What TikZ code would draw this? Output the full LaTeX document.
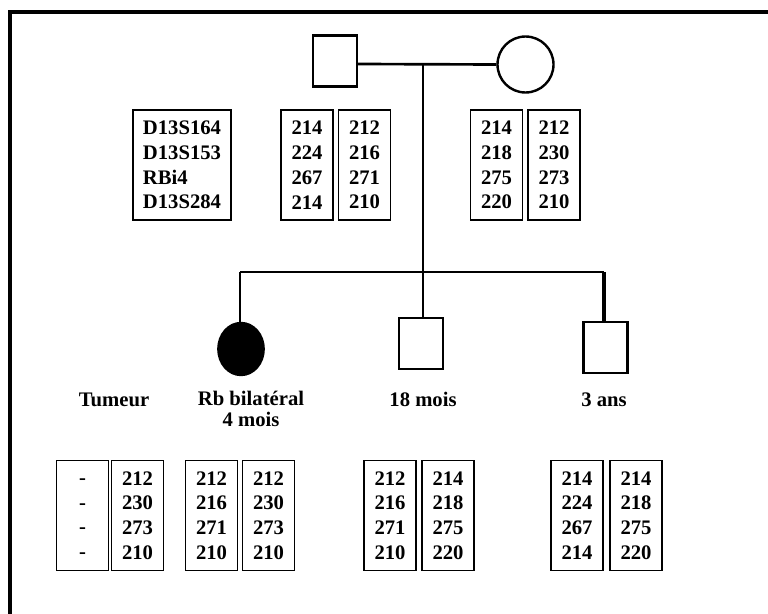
\documentclass[tikz,border=0pt]{standalone}
\usepackage{fontspec}
\setmainfont{Liberation Serif}
\usetikzlibrary{shapes.geometric}
\newcommand{\dsh}{\vphantom{0}\raisebox{0.6pt}{-}}
\begin{document}
\begin{tikzpicture}[x=0.75pt,y=-0.75pt,
  every node/.style={font=\bfseries\fontsize{15.5}{18.6}\selectfont},
  allele/.style={draw,line width=1.2pt,minimum width=39pt,minimum height=82.5pt,inner sep=0pt,align=center},
  markers/.style={draw,line width=1.2pt,minimum height=82.5pt,inner xsep=7.5pt,inner ysep=0pt,align=left},
  male/.style={draw,line width=1.8pt,minimum width=33pt,minimum height=38pt,inner sep=0pt},
  female/.style={draw,line width=1.8pt,ellipse,minimum width=42pt,minimum height=42pt,inner sep=0pt},
  affected/.style={fill=black,draw,line width=1.8pt,ellipse,minimum width=34pt,minimum height=39pt,inner sep=0pt},
  ped/.style={line width=2pt},
  lbl/.style={align=center,inner sep=0pt}]
\useasboundingbox (0,0) rectangle (768,614);
\draw[line width=3pt] (10,620) -- (10,12) -- (775,12);
% parents
\node[male] (fa) at (335,61) {};
\node[female] (mo) at (525.5,64.5) {};
\coordinate (mj) at (423,64);
\draw[ped] (fa.east |- mj) -- (mo.west);
% children
\node[affected] (d) at (241,349) {};
\node[male] (s1) at (421,343.5) {};
\node[male] (s2) at (605.5,347.5) {};
\coordinate (sl) at (240,272);
\coordinate (sm) at (423,272);
\coordinate (sr) at (604,272);
\draw[ped] (mj) -- (sm);
\draw[ped] (sl) -- (sr);
\draw[ped] (sl) -- (d.north -| sl);
\draw[ped] (sm) -- (s1.north -| sm);
\draw[ped,line width=2.6pt] (sr) -- (s2.north -| sr);
% labels
\node[lbl,anchor=base] (tum) at (114,406) {Tumeur};
\node[lbl,anchor=north] (ld) at (251,390.5) {Rb bilatéral\\[-2.8pt]4 mois};
\node[lbl,anchor=base] (l1) at (423,406) {18 mois};
\node[lbl,anchor=base] (l2) at (604,406) {3 ans};
% top boxes
\node[markers] (mk) at (182,165) {D13S164\\D13S153\\RBi4\\D13S284};
\node[allele] (fa1) at (307,165) {214\\224\\267\\214};
\node[allele] (fa2) at (364.5,165) {212\\216\\271\\210};
\node[allele] (mo1) at (496.5,165) {214\\218\\275\\220};
\node[allele] (mo2) at (554,165) {212\\230\\273\\210};
% bottom boxes
\node[allele] (t1) at (82.5,515.5) {\dsh\\\dsh\\\dsh\\\dsh};
\node[allele] (t2) at (137.5,515.5) {212\\230\\273\\210};
\node[allele] (d1) at (211.5,515.5) {212\\216\\271\\210};
\node[allele] (d2) at (268.5,515.5) {212\\230\\273\\210};
\node[allele] (a1) at (390,515.5) {212\\216\\271\\210};
\node[allele] (a2) at (448,515.5) {214\\218\\275\\220};
\node[allele] (b1) at (577,515.5) {214\\224\\267\\214};
\node[allele] (b2) at (636,515.5) {214\\218\\275\\220};
\end{tikzpicture}
\end{document}
